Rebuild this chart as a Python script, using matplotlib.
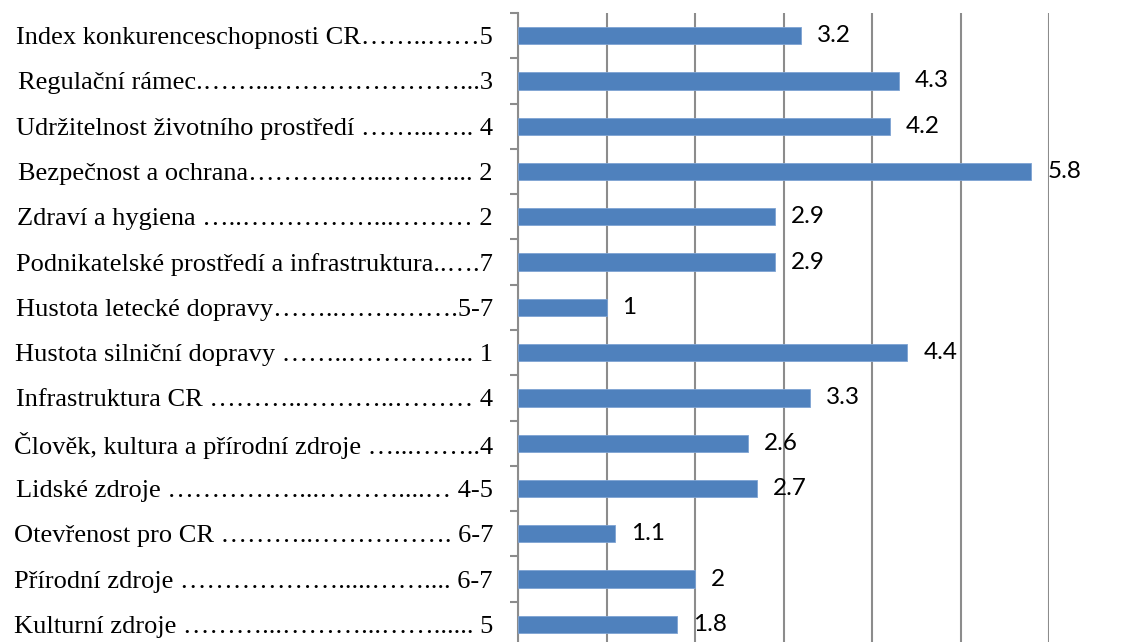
import matplotlib
matplotlib.use("Agg")
import matplotlib.pyplot as plt
import numpy as np

categories = [
    "Index konkurenceschopnosti CR……..……5",
    "Regulační rámec.……...…………………...3",
    "Udržitelnost životního prostředí ……...….. 4",
    "Bezpečnost a ochrana………..…....…….... 2",
    "Zdraví a hygiena …..……………...……… 2",
    "Podnikatelské prostředí a infrastruktura..….7",
    "Hustota letecké dopravy……..…….…….5-7",
    "Hustota silniční dopravy ……..…………... 1",
    "Infrastruktura CR ………..………..……… 4",
    "Člověk, kultura a přírodní zdroje …...……..4",
    "Lidské zdroje ……………...………....… 4-5",
    "Otevřenost pro CR ………..……………. 6-7",
    "Přírodní zdroje ……………….....…….... 6-7",
    "Kulturní zdroje ………...………...……...... 5",
]
values = [3.2, 4.3, 4.2, 5.8, 2.9, 2.9, 1, 4.4, 3.3, 2.6, 2.7, 1.1, 2, 1.8]
value_labels = ["3.2", "4.3", "4.2", "5.8", "2.9", "2.9", "1", "4.4", "3.3", "2.6", "2.7", "1.1", "2", "1.8"]

W, H = 1125, 642
fig = plt.figure(figsize=(W / 100, H / 100), dpi=100)
left, right = 518, 1049
top, bottom = 13, 647
ax = fig.add_axes([left / W, 1 - bottom / H, (right - left) / W, (bottom - top) / H])

pos = np.arange(len(categories))
ax.barh(pos, values, height=0.38, color="#4F81BD", edgecolor="#7EA3D3", linewidth=0.6, zorder=3)
ax.set_xlim(0, 6)
ax.set_ylim(len(categories) - 0.5, -0.5)

ax.set_xticks(np.arange(0, 7, 1))
ax.tick_params(axis="x", length=0, labelbottom=False)
ax.grid(axis="x", color="#8C8C8C", linewidth=1.5, zorder=0)
ax.grid(axis="y", visible=False)

ax.set_yticks(pos)
ax.set_yticklabels(categories, fontfamily="Liberation Serif", fontsize=19)
ax.tick_params(axis="y", which="major", length=0, pad=18)
ax.set_yticks(np.arange(-0.5, len(categories), 1), minor=True)
ax.tick_params(axis="y", which="minor", length=6, width=1.5, color="#8C8C8C", direction="out")

for s in ["top", "right", "bottom"]:
    ax.spines[s].set_visible(False)
ax.spines["left"].set_color("#8C8C8C")
ax.spines["left"].set_linewidth(1.5)

for p, v, lab in zip(pos, values, value_labels):
    ax.annotate(lab, xy=(v, p), xytext=(11.5, 0), textcoords="offset points",
                ha="left", va="center", fontsize=17.5, fontfamily="Lato", color="black",
                annotation_clip=False, zorder=4)

fig.savefig("out.png", dpi=100)
